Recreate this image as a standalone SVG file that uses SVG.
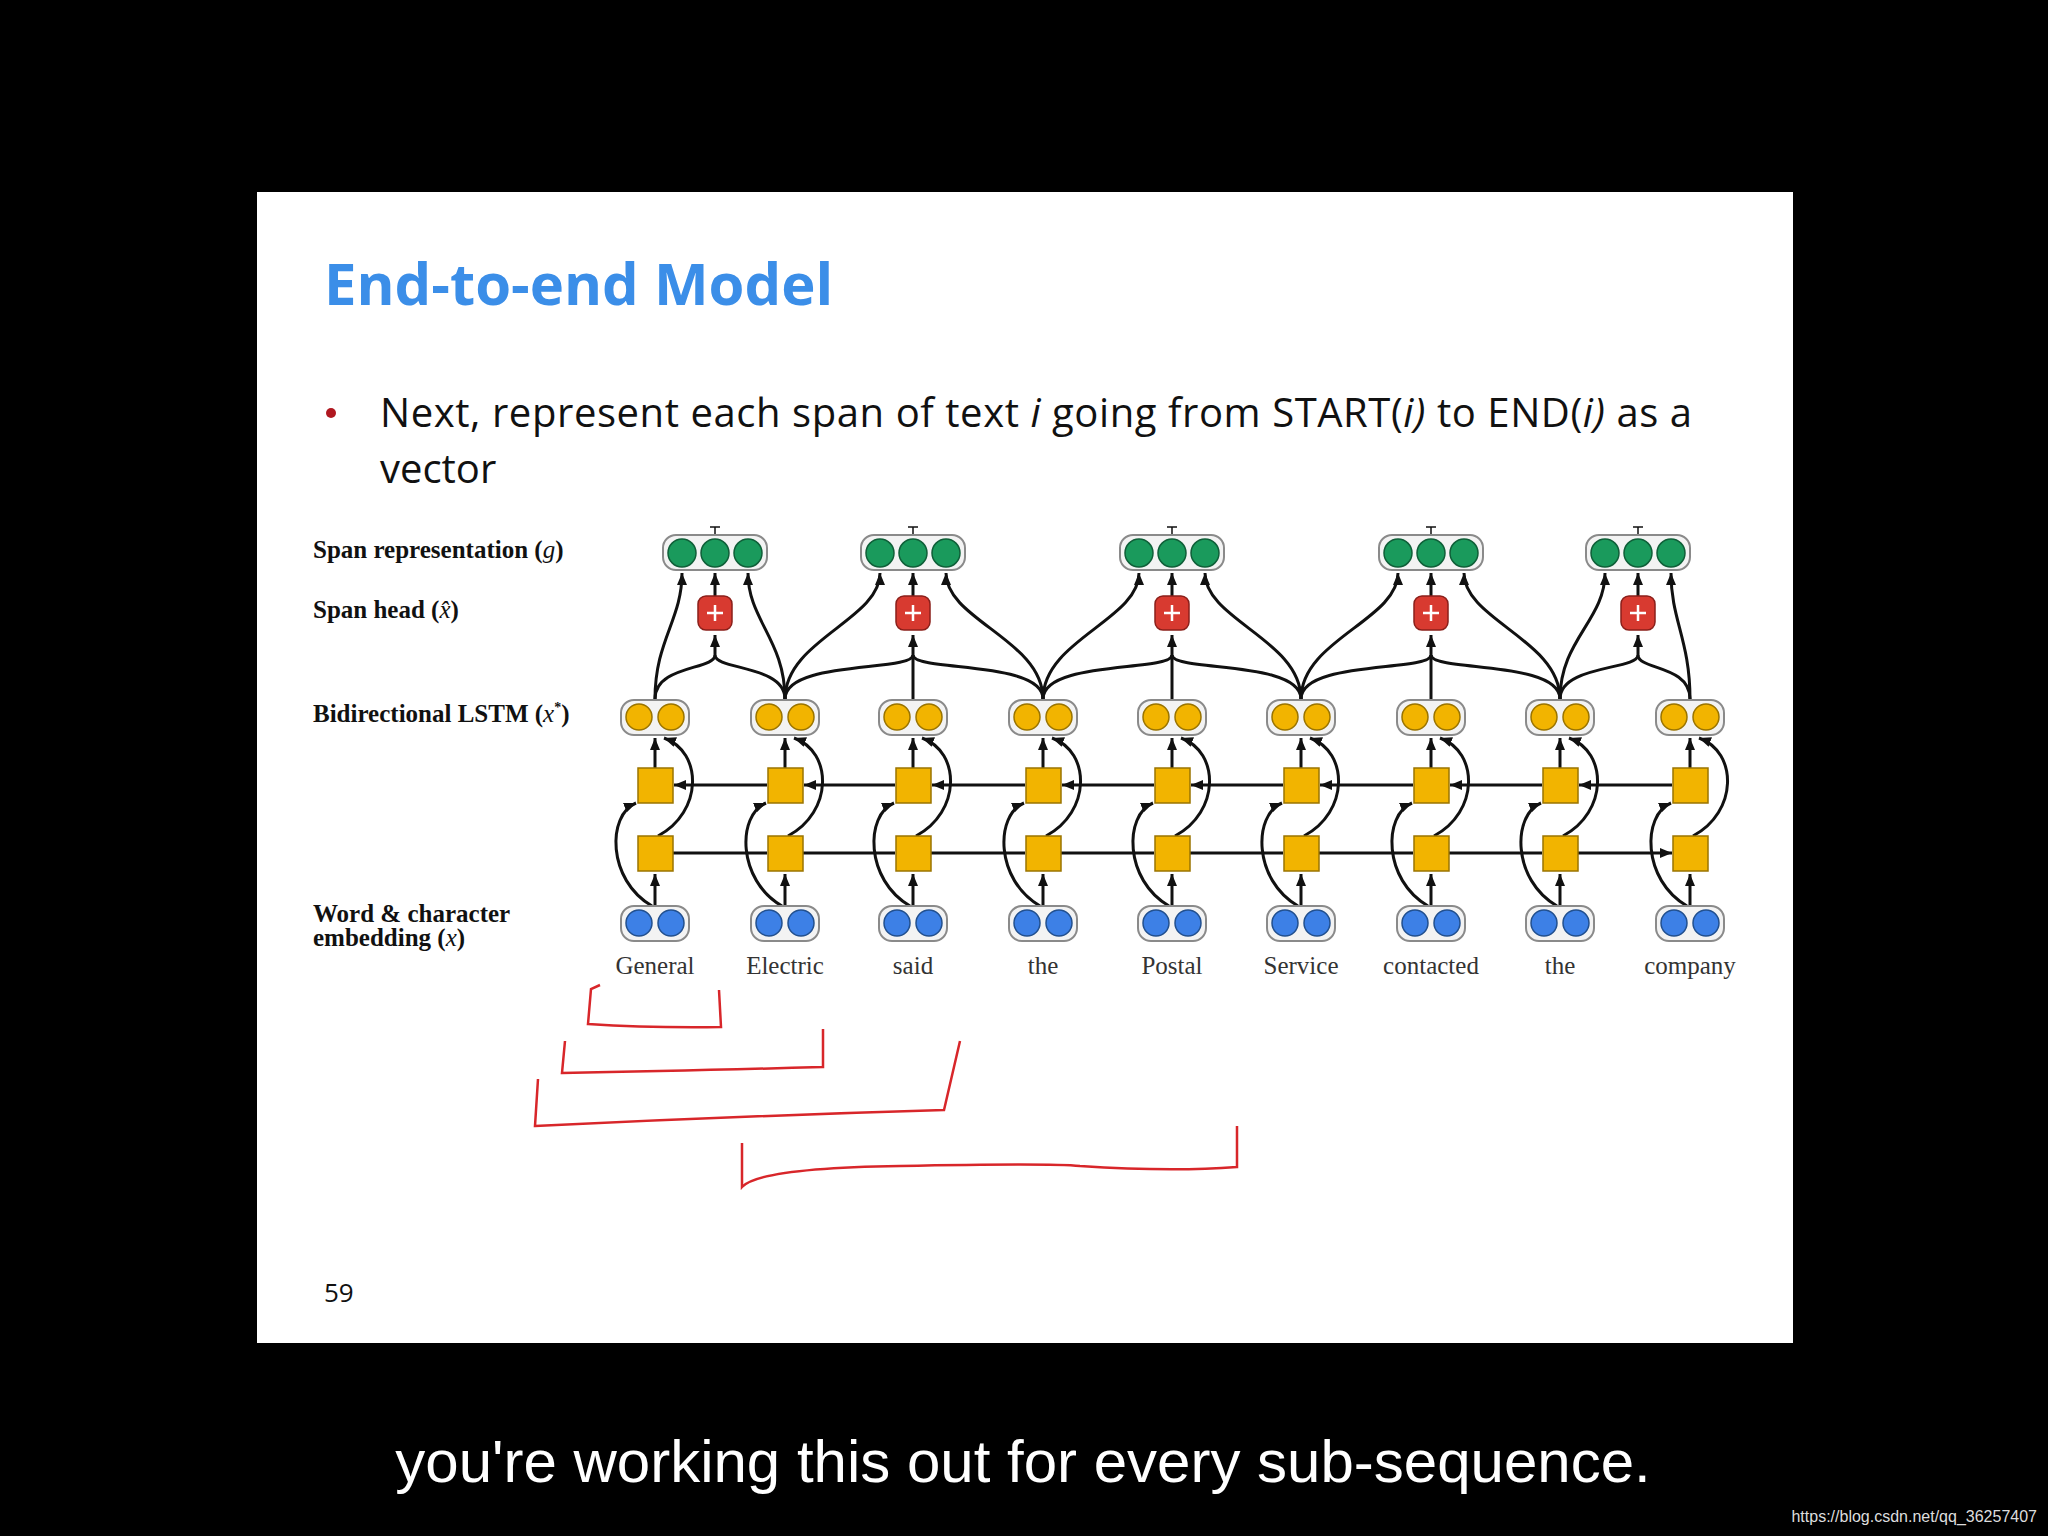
<svg xmlns="http://www.w3.org/2000/svg" xmlns:xlink="http://www.w3.org/1999/xlink" width="2048" height="1536" viewBox="0 0 2048 1536">
<style>
.ln{fill:none;stroke:#111;stroke-width:3}
.pair{fill:#f3f3f3;stroke:#8a8a8a;stroke-width:2}
.y{fill:#f2b400;stroke:#9a7400;stroke-width:1.5}
.b{fill:#3d80e6;stroke:#22508f;stroke-width:1.5}
.g{fill:#1a9a5c;stroke:#0f5f38;stroke-width:1.5}
.lab{font-family:"Liberation Serif",serif;font-weight:bold;font-size:25px;fill:#111}
.w{font-family:"Liberation Serif",serif;font-size:25px;fill:#333;text-anchor:middle}
.red{fill:none;stroke:#d8262a;stroke-width:2.5}
</style>
<defs>
<marker id="ah" markerUnits="userSpaceOnUse" markerWidth="14" markerHeight="12" refX="12" refY="5" orient="auto"><path d="M0,0 L12,5 L0,10 z" fill="#111"/></marker>
<g id="col">
<path class="ln" d="M0 906 L0 874" marker-end="url(#ah)"/>
<path class="ln" d="M0 768 L0 738" marker-end="url(#ah)"/>
<path class="ln" d="M-3 906 C-48 880 -48 815 -19 803" marker-end="url(#ah)"/>
<path class="ln" d="M3 836 C48 812 48 752 9 738" marker-end="url(#ah)"/>
<rect class="pair" x="-34" y="700" width="68" height="35" rx="13"/>
<circle class="y" cx="-16" cy="717" r="13"/><circle class="y" cx="16" cy="717" r="13"/>
<rect class="y" x="-17" y="768" width="35" height="35"/>
<rect class="y" x="-17" y="836" width="35" height="35"/>
<rect class="pair" x="-34" y="906" width="68" height="35" rx="13"/>
<circle class="b" cx="-16" cy="923" r="13"/><circle class="b" cx="16" cy="923" r="13"/>
</g>
<g id="span">
<path class="ln" d="M0 596 L0 573" marker-end="url(#ah)"/>
<path class="ln" d="M0 655 L0 635" marker-end="url(#ah)"/>
<path class="ln" d="M0 527 L0 535 M-5 527 L5 527" style="stroke-width:1.5"/>
<rect class="pair" x="-52" y="535" width="104" height="35" rx="13"/>
<circle class="g" cx="-33" cy="553" r="14"/><circle class="g" cx="0" cy="553" r="14"/><circle class="g" cx="33" cy="553" r="14"/>
<rect x="-17" y="596" width="34" height="34" rx="8" fill="#d83a30" stroke="#8a1f1a" stroke-width="1.5"/>
<path d="M-8 613 L8 613 M0 605 L0 621" stroke="#fff" stroke-width="2.5"/>
</g>
</defs>
<rect width="2048" height="1536" fill="#000"/>
<rect x="257" y="192" width="1536" height="1151" fill="#fff"/>
<text x="324" y="305" font-family="'Open Sans','Liberation Sans',sans-serif" font-weight="bold" font-size="58" fill="#3b8ee8">End-to-end Model</text>
<circle cx="331" cy="413" r="5" fill="#b01820"/>
<text x="380" y="427" font-family="'Open Sans','Liberation Sans',sans-serif" font-size="40" fill="#111" textLength="1312" lengthAdjust="spacing">Next, represent each span of text <tspan font-style="italic">i</tspan> going from START(<tspan font-style="italic">i)</tspan> to END(<tspan font-style="italic">i)</tspan> as a</text>
<text x="380" y="483" font-family="'Open Sans','Liberation Sans',sans-serif" font-size="40" fill="#111">vector</text>
<text x="324" y="1302" font-family="'Open Sans','Liberation Sans',sans-serif" font-size="26" fill="#111">59</text>
<g id="labels">
<text class="lab" x="313" y="558">Span representation (<tspan font-style="italic" font-weight="normal">g</tspan>)</text>
<text class="lab" x="313" y="618">Span head (<tspan font-style="italic" font-weight="normal">x̂</tspan>)</text>
<text class="lab" x="313" y="722">Bidirectional LSTM (<tspan font-style="italic" font-weight="normal">x</tspan><tspan font-size="14" dy="-10">*</tspan><tspan dy="10">)</tspan></text>
<text class="lab" x="313" y="922">Word &amp; character</text>
<text class="lab" x="313" y="946">embedding (<tspan font-style="italic" font-weight="normal">x</tspan>)</text>
</g>
<g id="connectors">
<path class="ln" d="M673 853 L767 853 M803 853 L895 853 M931 853 L1025 853 M1061 853 L1154 853 M1190 853 L1283 853 M1319 853 L1413 853 M1449 853 L1542 853 M1578 853 L1672 853" marker-end="url(#ah)"/>
<g class="ln" marker-end="url(#ah)">
<path d="M767 785 L674 785"/><path d="M895 785 L804 785"/><path d="M1025 785 L932 785"/><path d="M1154 785 L1062 785"/><path d="M1283 785 L1191 785"/><path d="M1413 785 L1320 785"/><path d="M1542 785 L1450 785"/><path d="M1672 785 L1579 785"/>
</g>
<g class="ln" marker-end="url(#ah)">
<path d="M655 699 C655 640 682 620 682 573"/><path d="M785 699 C785 640 748 620 748 573"/>
<path d="M785 699 C785 640 880 620 880 573"/><path d="M1043 699 C1043 640 946 620 946 573"/>
<path d="M1043 699 C1043 640 1139 620 1139 573"/><path d="M1301 699 C1301 640 1205 620 1205 573"/>
<path d="M1301 699 C1301 640 1398 620 1398 573"/><path d="M1560 699 C1560 640 1464 620 1464 573"/>
<path d="M1560 699 C1560 640 1605 620 1605 573"/><path d="M1690 699 C1690 640 1671 620 1671 573"/>
</g>
<g class="ln">
<path d="M655 699 C655 665 715 670 715 655"/><path d="M785 699 C785 665 715 670 715 655"/>
<path d="M785 699 C785 660 913 672 913 655"/><path d="M913 699 L913 655"/><path d="M1043 699 C1043 660 913 672 913 655"/>
<path d="M1043 699 C1043 660 1172 672 1172 655"/><path d="M1172 699 L1172 655"/><path d="M1301 699 C1301 660 1172 672 1172 655"/>
<path d="M1301 699 C1301 660 1431 672 1431 655"/><path d="M1431 699 L1431 655"/><path d="M1560 699 C1560 660 1431 672 1431 655"/>
<path d="M1560 699 C1560 665 1638 670 1638 655"/><path d="M1690 699 C1690 665 1638 670 1638 655"/>
</g>
</g>
<g id="c1"><use xlink:href="#col" x="655"/></g>
<g id="c2"><use xlink:href="#col" x="785"/></g>
<g id="c3"><use xlink:href="#col" x="913"/></g>
<g id="c4"><use xlink:href="#col" x="1043"/></g>
<g id="c5"><use xlink:href="#col" x="1172"/></g>
<g id="c6"><use xlink:href="#col" x="1301"/></g>
<g id="c7"><use xlink:href="#col" x="1431"/></g>
<g id="c8"><use xlink:href="#col" x="1560"/></g>
<g id="c9"><use xlink:href="#col" x="1690"/></g>
<g id="s1"><use xlink:href="#span" x="715"/></g>
<g id="s2"><use xlink:href="#span" x="913"/></g>
<g id="s3"><use xlink:href="#span" x="1172"/></g>
<g id="s4"><use xlink:href="#span" x="1431"/></g>
<g id="s5"><use xlink:href="#span" x="1638"/></g>
<g id="words">
<text class="w" x="655" y="974">General</text><text class="w" x="785" y="974">Electric</text><text class="w" x="913" y="974">said</text>
<text class="w" x="1043" y="974">the</text><text class="w" x="1172" y="974">Postal</text><text class="w" x="1301" y="974">Service</text>
<text class="w" x="1431" y="974">contacted</text><text class="w" x="1560" y="974">the</text><text class="w" x="1690" y="974">company</text>
</g>
<g id="ink">
<path class="red" d="M600 985 L591 989 L588 1024 Q650 1028 721 1027 L719 990"/>
<path class="red" d="M565 1041 L562 1073 Q680 1071 823 1067 L823 1029"/>
<path class="red" d="M538 1079 L535 1126 Q740 1116 944 1110 L960 1041"/>
<path class="red" d="M742 1143 L742 1187 Q760 1168 900 1166 Q1050 1163 1080 1166 Q1170 1172 1237 1167 L1237 1126"/>
</g>
<text x="1023" y="1482" text-anchor="middle" font-family="'Liberation Sans',sans-serif" font-size="60" fill="#fff">you're working this out for every sub-sequence.</text>
<text x="2037" y="1522" text-anchor="end" font-family="'Liberation Sans',sans-serif" font-size="16" fill="#ddd">https://blog.csdn.net/qq_36257407</text>
</svg>
